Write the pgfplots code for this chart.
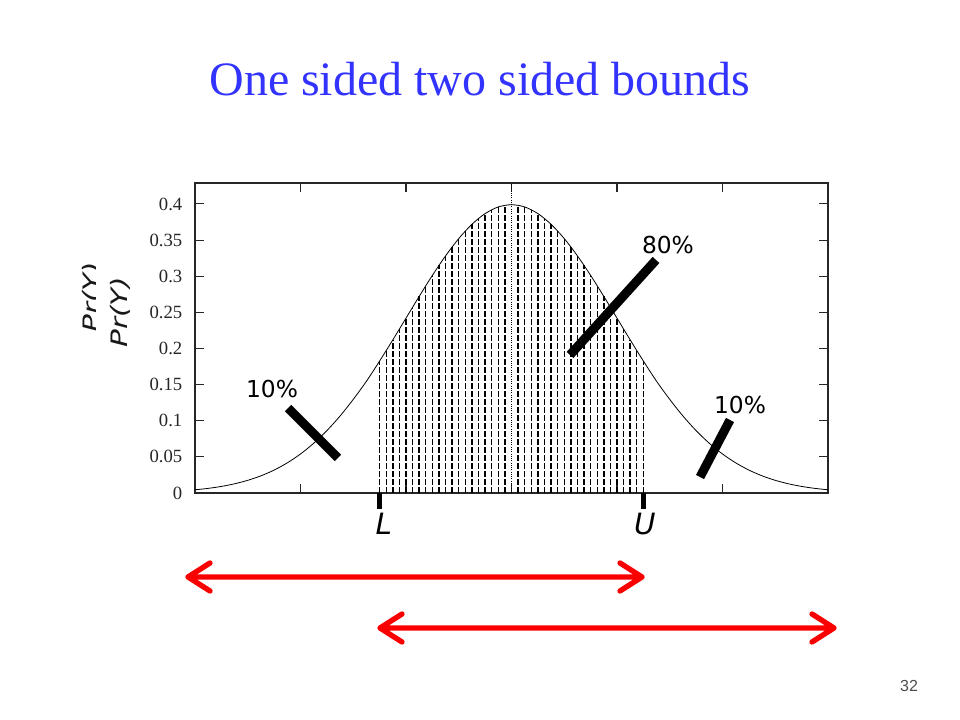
\documentclass[border=0pt]{standalone}
\usepackage{pgfplots}
\pgfplotsset{compat=1.18}
\usepackage{pgfplotstable}
\usepackage{fontspec}
\setmainfont{Liberation Serif}
\newfontfamily\dejavu{DejaVu Sans}
\newfontfamily\libsans{Liberation Sans}
\definecolor{titleblue}{RGB}{51,51,255}
\definecolor{arrowred}{RGB}{250,0,0}

\pgfplotstableread{
x y
-3.000 0.00443
-2.875 0.00640
-2.750 0.00909
-2.625 0.01272
-2.500 0.01753
-2.375 0.02377
-2.250 0.03174
-2.125 0.04172
-2.000 0.05399
-1.875 0.06879
-1.750 0.08628
-1.625 0.10654
-1.500 0.12952
-1.375 0.15463
-1.250 0.18265
-1.125 0.21188
-1.000 0.24197
-0.875 0.27205
-0.750 0.30114
-0.625 0.32816
-0.500 0.35207
-0.375 0.37186
-0.250 0.38667
-0.125 0.39584
0.000 0.39894
0.125 0.39584
0.250 0.38667
0.375 0.37186
0.500 0.35207
0.625 0.32816
0.750 0.30114
0.875 0.27205
1.000 0.24197
1.125 0.21188
1.250 0.18265
1.375 0.15463
1.500 0.12952
1.625 0.10654
1.750 0.08628
1.875 0.06879
2.000 0.05399
2.125 0.04172
2.250 0.03174
2.375 0.02377
2.500 0.01753
2.625 0.01272
2.750 0.00909
2.875 0.00640
3.000 0.00443
}\curvedata

\pgfplotstableread{
x y
-1.2500 0.18265
-1.1875 0.19710
-1.1250 0.21188
-1.0625 0.22686
-1.0000 0.24197
-0.9375 0.25707
-0.8750 0.27205
-0.8125 0.28679
-0.7500 0.30114
-0.6875 0.31497
-0.6250 0.32816
-0.5625 0.34057
-0.5000 0.35207
-0.4375 0.36253
-0.3750 0.37186
-0.3125 0.37993
-0.2500 0.38667
-0.1875 0.39199
-0.1250 0.39584
-0.0625 0.39816
0.0625 0.39816
0.1250 0.39584
0.1875 0.39199
0.2500 0.38667
0.3125 0.37993
0.3750 0.37186
0.4375 0.36253
0.5000 0.35207
0.5625 0.34057
0.6250 0.32816
0.6875 0.31497
0.7500 0.30114
0.8125 0.28679
0.8750 0.27205
0.9375 0.25707
1.0000 0.24197
1.0625 0.22686
1.1250 0.21188
1.1875 0.19710
1.2500 0.18265
}\hatchdata

\begin{document}
\begin{tikzpicture}
\path[use as bounding box] (0,0) rectangle (720pt,540pt);

\begin{axis}[
  at={(146.25pt,170.25pt)}, anchor=south west,
  scale only axis, width=474.75pt, height=232.5pt,
  xmin=-3, xmax=3, ymin=0, ymax=0.429,
  xtick={-2,-1,0,1,2}, xticklabels={},
  ytick={0,0.05,0.1,0.15,0.2,0.25,0.3,0.35,0.4},
  tick pos=both, ticklabel pos=left,
  tick align=inside, major tick length=7pt,
  tick style={black!85, line width=0.8pt},
  axis line style={line width=1.1pt, black!85},
  yticklabel style={font=\fontsize{14}{16}\selectfont, xshift=-6pt, text=black!85},
  /pgf/number format/assume math mode=true,
  /pgf/number format/fixed, /pgf/number format/precision=2,
  clip=false,
]
\addplot[ycomb, black, line width=1.05pt, dash pattern=on 4.8pt off 1.2pt, mark=none] table[x=x,y=y] {\hatchdata};
\addplot[black, densely dotted, line width=0.7pt] coordinates {(0,0) (0,0.429)};
\addplot[black, smooth, line width=0.6pt, mark=none] table[x=x,y=y] {\curvedata};

% annotation strokes
\draw[line width=6.8pt] (axis cs:-2.118,0.1176) -- (axis cs:-1.645,0.0484);
\draw[line width=6.8pt] (axis cs:0.5545,0.191) -- (axis cs:1.3697,0.3225);
\draw[line width=6.8pt] (axis cs:1.787,0.0221) -- (axis cs:2.071,0.101);
\node[font=\dejavu\fontsize{17.5}{20}\selectfont] at (axis cs:-2.270,0.144) {10\%};
\node[font=\dejavu\fontsize{17.5}{20}\selectfont] at (axis cs:1.483,0.343) {80\%};
\node[font=\dejavu\fontsize{17.5}{20}\selectfont] at (axis cs:2.166,0.122) {10\%};

% L and U marks
\draw[line width=3.5pt] (axis cs:-1.25,0) -- (axis cs:-1.25,-0.022);
\draw[line width=3.5pt] (axis cs:1.25,0) -- (axis cs:1.25,-0.022);
\node[font=\dejavu\itshape\fontsize{22}{24}\selectfont] at (axis cs:-1.21,-0.043) {L};
\node[font=\dejavu\itshape\fontsize{22}{24}\selectfont] at (axis cs:1.265,-0.043) {U};
\end{axis}

\begin{scope}[shift={(0pt,540pt)}, x=0.75pt, y=-0.75pt]
  % title
  \node[anchor=base, text=titleblue, font=\fontsize{36}{40}\selectfont] at (480,96) {One sided two sided bounds};
  % y label
  \node[rotate=90, font=\dejavu\itshape\fontsize{17}{20}\selectfont, text=black!90] at (120,312) {\scalebox{1.3}[1]{Pr(Y)}};
  \begin{scope}
    \clip (78,255) rectangle (95,340);
    \node[rotate=90, font=\dejavu\itshape\fontsize{17}{20}\selectfont, text=black!90] at (92,297) {\scalebox{1.3}[1]{Pr(Y)}};
  \end{scope}
  % red arrows
  \draw[arrowred, line width=4pt, line cap=round, line join=round]
     (188,577) -- (642,577)
     (210,563) -- (188,577) -- (210,591)
     (620,563) -- (642,577) -- (620,591);
  \draw[arrowred, line width=4pt, line cap=round, line join=round]
     (380,628) -- (834,628)
     (402,614) -- (380,628) -- (402,642)
     (812,614) -- (834,628) -- (812,642);
  % page number
  \node[font=\libsans\fontsize{12}{14}\selectfont, text=black!70] at (909,686) {32};
\end{scope}
\end{tikzpicture}
\end{document}
